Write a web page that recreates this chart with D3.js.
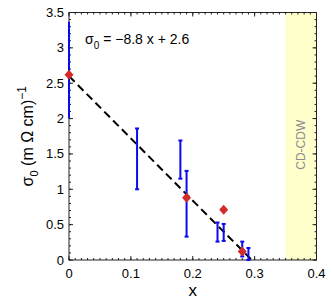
<!DOCTYPE html>
<html>
<head>
<meta charset="utf-8">
<script src="https://cdn.jsdelivr.net/npm/d3@7"></script>
<style>
  body { margin: 0; background: #fff; }
  svg { display: block; font-family: "Liberation Sans", Arial, sans-serif; }
</style>
</head>
<body>
<svg id="chart" width="332" height="302"></svg>
<script>
// error bars (blue): x, lower end, upper end
const barX = [0, 0.11, 0.18, 0.19, 0.24, 0.25, 0.28, 0.29];
const barLo = [2.0, 1.0, 1.15, 0.33, 0.26, 0.27, 0.05, 0.0];
const barHi = [3.37, 1.86, 1.69, 1.26, 0.53, 0.51, 0.26, 0.17];

// red diamonds
const ptX = [0, 0.19, 0.25, 0.28];
const ptY = [2.62, 0.88, 0.71, 0.12];

// linear fit sigma0 = -8.8 x + 2.6
const fitSlope = -8.8;
const fitIntercept = 2.6;
const fitRange = [0, 0.2955];

// shaded CD-CDW region
const regionX = [0.35, 0.4];
const regionLabel = "CD-CDW";

const xTicks = [0, 0.1, 0.2, 0.3, 0.4];
const yTicks = [0, 0.5, 1, 1.5, 2, 2.5, 3, 3.5];

const svg = d3.select("#chart");
const width = +svg.attr("width");
const height = +svg.attr("height");
const margin = { top: 12.5, right: 15.5, bottom: 42, left: 69 };
const innerWidth = width - margin.left - margin.right;
const innerHeight = height - margin.top - margin.bottom;

const x = d3.scaleLinear().domain([0, 0.4]).range([0, innerWidth]);
const y = d3.scaleLinear().domain([0, 3.5]).range([innerHeight, 0]);

const g = svg.append("g").attr("transform", `translate(${margin.left},${margin.top})`);

// shaded region
g.append("rect")
  .attr("x", x(regionX[0]))
  .attr("y", 0)
  .attr("width", x(regionX[1]) - x(regionX[0]))
  .attr("height", innerHeight)
  .attr("fill", "#ffffcc");

g.append("text")
  .attr("transform", `translate(${x((regionX[0] + regionX[1]) / 2) + 4},${y(1.63)}) rotate(-90)`)
  .attr("text-anchor", "middle")
  .attr("fill", "#8c8c8c")
  .attr("font-size", 12)
  .text(regionLabel);

// ticks: major + minor on all four sides, pointing inward
const xMinor = d3.range(0, 0.4001, 0.01);
const yMinor = d3.range(0, 3.5001, 0.1);
const tickColor = "#222";

function tickLines(vals, len, side) {
  g.append("g")
    .selectAll("line")
    .data(vals)
    .join("line")
    .attr("stroke", tickColor)
    .attr("stroke-width", 1)
    .each(function (d) {
      const l = d3.select(this);
      if (side === "bottom") l.attr("x1", x(d)).attr("x2", x(d)).attr("y1", innerHeight).attr("y2", innerHeight - len);
      if (side === "top") l.attr("x1", x(d)).attr("x2", x(d)).attr("y1", 0).attr("y2", len);
      if (side === "left") l.attr("y1", y(d)).attr("y2", y(d)).attr("x1", 0).attr("x2", len);
      if (side === "right") l.attr("y1", y(d)).attr("y2", y(d)).attr("x1", innerWidth).attr("x2", innerWidth - len);
    });
}
["bottom", "top"].forEach(s => { tickLines(xMinor, 2, s); tickLines(xTicks, 4, s); });
["left", "right"].forEach(s => { tickLines(yMinor, 2, s); tickLines(yTicks, 4, s); });

// box
g.append("rect")
  .attr("width", innerWidth)
  .attr("height", innerHeight)
  .attr("fill", "none")
  .attr("stroke", tickColor)
  .attr("stroke-width", 1);

// tick labels
g.append("g")
  .selectAll("text")
  .data(xTicks)
  .join("text")
  .attr("x", d => x(d))
  .attr("y", innerHeight + 18)
  .attr("text-anchor", "middle")
  .attr("font-size", 13)
  .text(d => d3.format("")(d));

g.append("g")
  .selectAll("text")
  .data(yTicks)
  .join("text")
  .attr("x", -5)
  .attr("y", d => y(d) + 4.5)
  .attr("text-anchor", "end")
  .attr("font-size", 13)
  .text(d => d3.format("")(d));

// fit line
const fitLine = d3.line().x(d => x(d)).y(d => y(fitSlope * d + fitIntercept));
g.append("path")
  .attr("d", fitLine(fitRange))
  .attr("fill", "none")
  .attr("stroke", "#000")
  .attr("stroke-width", 2)
  .attr("stroke-dasharray", "8,4.5");

// error bars
const bars = barX.map((d, i) => ({ x: d, lo: barLo[i], hi: barHi[i] }));
const blue = "#0a0af0";
const capW = 2;
const eb = g.append("g").attr("stroke", blue).attr("stroke-width", 2);
eb.selectAll("line.v").data(bars).join("line").attr("class", "v")
  .attr("x1", d => x(d.x)).attr("x2", d => x(d.x))
  .attr("y1", d => y(d.lo)).attr("y2", d => y(d.hi));
eb.selectAll("line.top").data(bars.filter(d => d.x > 0)).join("line").attr("class", "top")
  .attr("x1", d => x(d.x) - capW).attr("x2", d => x(d.x) + capW)
  .attr("y1", d => y(d.hi)).attr("y2", d => y(d.hi));
eb.selectAll("line.bot").data(bars.filter(d => d.x > 0)).join("line").attr("class", "bot")
  .attr("x1", d => x(d.x) - capW).attr("x2", d => x(d.x) + capW)
  .attr("y1", d => y(d.lo)).attr("y2", d => y(d.lo));

// diamonds
const pts = ptX.map((d, i) => ({ x: d, y: ptY[i] }));
g.append("g")
  .selectAll("path")
  .data(pts)
  .join("path")
  .attr("d", d => {
    const cx = x(d.x), cy = y(d.y);
    return `M${cx},${cy - 5}L${cx + 4.5},${cy}L${cx},${cy + 5}L${cx - 4.5},${cy}Z`;
  })
  .attr("fill", "#d42a2a");

// fit equation
const eq = g.append("text")
  .attr("x", x(0.026))
  .attr("y", y(3.06))
  .attr("font-size", 14);
eq.append("tspan").text("σ");
eq.append("tspan").attr("font-size", 10).attr("dy", 5).text("0");
eq.append("tspan").attr("dy", -5).text(" = −8.8 x + 2.6");

// axis labels
g.append("text")
  .attr("x", innerWidth / 2)
  .attr("y", innerHeight + 36)
  .attr("text-anchor", "middle")
  .attr("font-size", 17)
  .text("x");

const yl = g.append("text")
  .attr("transform", `translate(-36,${innerHeight / 2}) rotate(-90)`)
  .attr("text-anchor", "middle")
  .attr("font-size", 16);
yl.append("tspan").text("σ");
yl.append("tspan").attr("font-size", 11).attr("dy", 5).text("0");
yl.append("tspan").attr("dy", -5).text(" (m Ω cm)");
yl.append("tspan").attr("font-size", 12).attr("dy", -7).text("−1");
</script>
</body>
</html>
